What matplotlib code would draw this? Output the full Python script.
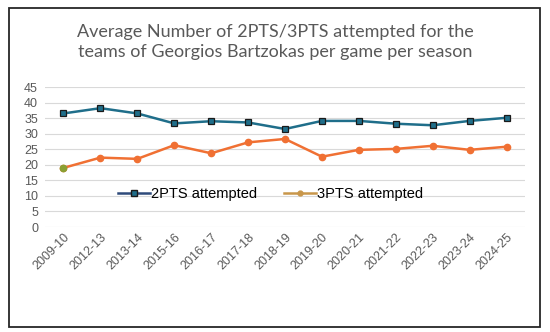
import matplotlib.pyplot as plt
from matplotlib.lines import Line2D
from matplotlib.patches import Rectangle

seasons = ["2009-10", "2012-13", "2013-14", "2015-16", "2016-17", "2017-18", "2018-19",
           "2019-20", "2020-21", "2021-22", "2022-23", "2023-24", "2024-25"]
pts2 = [36.5, 38.2, 36.5, 33.3, 34.0, 33.6, 31.5, 34.1, 34.1, 33.2, 32.7, 34.1, 35.1]
pts3 = [19.0, 22.3, 21.9, 26.3, 23.7, 27.2, 28.3, 22.6, 24.8, 25.1, 26.1, 24.8, 25.8]

fig = plt.figure(figsize=(5.5, 3.32), dpi=100)
ax = fig.add_axes([45 / 550, 1 - 227 / 332, 480 / 550, 140 / 332])

x = list(range(len(seasons)))
ax.plot(x, pts2, color='#1f6e8a', lw=1.8, marker='s', ms=5,
        markerfacecolor='#1f6e8a', markeredgecolor='#1a1a1a', markeredgewidth=0.9, zorder=3)
ax.plot(x, pts3, color='#f07033', lw=1.8, marker='o', ms=4.5,
        markerfacecolor='#f07033', markeredgecolor='#f07033', zorder=3)
# first 3PTS point is drawn greenish in the original
ax.plot(x[0], pts3[0], marker='o', ms=4.5, color='#8aa033', zorder=4)

ax.set_xlim(-0.5, len(seasons) - 0.5)
ax.set_ylim(0, 45)
ax.set_yticks(range(0, 50, 5))
ax.set_xticks(x)
ax.set_xticklabels(seasons, rotation=45, ha='right', rotation_mode='anchor')
ax.grid(axis='y', color='#d9d9d9', lw=0.8)
ax.set_axisbelow(True)
for s in ax.spines.values():
    s.set_visible(False)
ax.tick_params(length=0, labelsize=9, labelcolor='#595959', pad=5)
ax.tick_params(axis='x', pad=3)
for lab in ax.get_xticklabels():
    lab.set_fontfamily('Liberation Sans')
for lab in ax.get_yticklabels():
    lab.set_fontfamily('Liberation Sans')

handles = [
    Line2D([], [], color='#2e4a7a', lw=1.8, marker='s', ms=4.5,
           markerfacecolor='#1f6e8a', markeredgecolor='#1a1a1a'),
    Line2D([], [], color='#c8964a', lw=1.8, marker='o', ms=3.5,
           markerfacecolor='#c8964a', markeredgecolor='#c8964a'),
]
ax.legend(handles, ["2PTS attempted", "3PTS attempted"], loc='center',
          bbox_to_anchor=(0.47, 0.236), ncol=2, frameon=False, handlelength=2.2,
          handletextpad=0.1, columnspacing=1.8, prop={'family': 'Liberation Sans', 'size': 10.5})

fig.text(0.5, 1 - 42 / 332,
         "Average Number of 2PTS/3PTS attempted for the\nteams of Georgios Bartzokas per game per season",
         ha='center', va='center', fontsize=13, color='#595959', family='Lato', linespacing=1.3)

fig.patches.append(Rectangle((9 / 550, 1 - 327 / 332), 531 / 550, 319 / 332,
                             transform=fig.transFigure, fill=False, ec='#262626', lw=1.3))

fig.savefig("out.png", dpi=100)
